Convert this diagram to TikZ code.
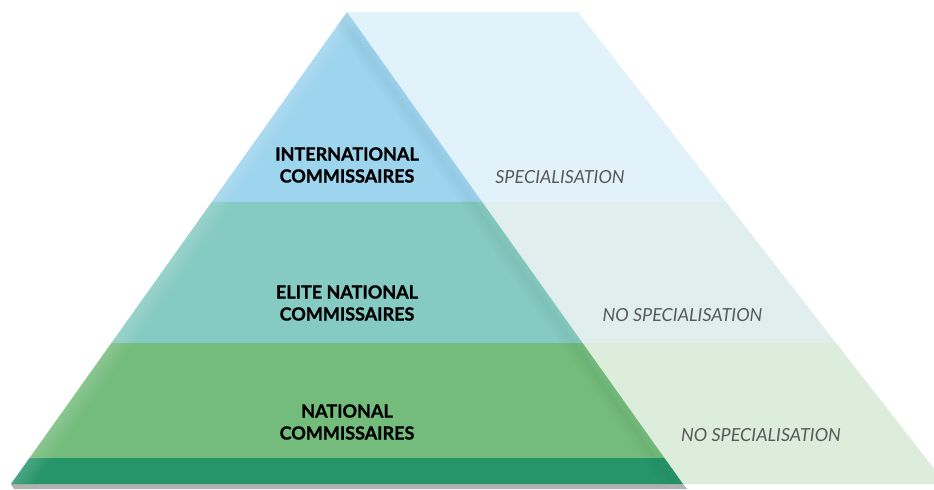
\documentclass[tikz,border=0pt]{standalone}
\usepackage{fontspec}
\setmainfont{Lato}[BoldFeatures={FakeBold=1.2}]
\usetikzlibrary{calc}
\usetikzlibrary{positioning}

\definecolor{topblue}{HTML}{9DD4EE}
\definecolor{midteal}{HTML}{86CBC3}
\definecolor{lowgreen}{HTML}{74BC7C}
\definecolor{basegreen}{HTML}{27956A}
\definecolor{paleblue}{HTML}{E1F2FB}
\definecolor{paleteal}{HTML}{E0EFEE}
\definecolor{palegreen}{HTML}{DDEDDB}
\definecolor{labelgrey}{HTML}{58595B}

\tikzset{
  tierlabel/.style={font=\bfseries\fontsize{13.5}{16.5}\selectfont, align=center, text=black, inner sep=0pt},
  sidelabel/.style={font=\itshape\fontsize{13.5}{16.5}\selectfont, text=labelgrey, inner sep=0pt},
}

\begin{document}
\begin{tikzpicture}[x=0.75pt, y=-0.75pt]
        \useasboundingbox (0,0) rectangle (934,489);
        \clip (0,0) rectangle (934,489);

        % corners
        \coordinate (apex) at (347,12);
        \coordinate (baseL) at (11,484);
        \coordinate (baseR) at (683,484);
        \coordinate (panelT) at (578,12);
        \coordinate (panelB) at (946,484);

        % tier limits on the edges
        \coordinate (l1) at ($(apex)!0.4025!(baseL)$);
        \coordinate (l2) at ($(apex)!0.7013!(baseL)$);
        \coordinate (l3) at ($(apex)!0.9449!(baseL)$);
        \coordinate (r1) at ($(apex)!0.4025!(baseR)$);
        \coordinate (r2) at ($(apex)!0.7013!(baseR)$);
        \coordinate (r3) at ($(apex)!0.9449!(baseR)$);
        \coordinate (p1) at ($(panelT)!0.4025!(panelB)$);
        \coordinate (p2) at ($(panelT)!0.7013!(panelB)$);

        % pale panel
        \fill[paleblue] (apex) -- (panelT) -- (p1) -- (r1) -- cycle;
        \fill[paleteal] (r1) -- (p1) -- (p2) -- (r2) -- cycle;
        \fill[palegreen] (r2) -- (p2) -- (panelB) -- (baseR) -- cycle;

        % shadow under base
        \fill[gray!60] (baseL) -- (baseR) -- ($(baseR)+(4,5)$) -- ($(baseL)+(3,5)$) -- cycle;

        % pyramid tiers
        \fill[topblue] (apex) -- (r1) -- (l1) -- cycle;
        \fill[midteal] (l1) -- (r1) -- (r2) -- (l2) -- cycle;
        \fill[lowgreen] (l2) -- (r2) -- (r3) -- (l3) -- cycle;
        \fill[basegreen] (l3) -- (r3) -- (baseR) -- (baseL) -- cycle;

        % bevel
        \begin{scope}
            \clip (apex) -- (baseR) -- (baseL) -- cycle;
            \foreach \d in {0,...,23}
                \draw[white, opacity={0.12*(1-\d/24)}, line width=0.8pt] ($(apex)+(\d,0)$) -- ($(baseL)+(\d,0)$);
            \foreach \d in {0,...,23}
                \draw[black, opacity={0.03*(1-abs(\d-10)/14)}, line width=0.8pt] ($(apex)+(-\d,0)$) -- ($(baseR)+(-\d,0)$);
        \end{scope}

        % tier labels
        \node[tierlabel] (intl) at (347,165) {INTERNATIONAL\\COMMISSAIRES};
        \node[tierlabel] (elite) at (347,303) {ELITE NATIONAL\\COMMISSAIRES};
        \node[tierlabel] (natl) at (347,422) {NATIONAL\\COMMISSAIRES};

        % side labels
        \node[sidelabel] (spec) at ($(intl)+(213,12)$) {SPECIALISATION};
        \node[sidelabel] (nospec1) at ($(elite)+(335.5,12)$) {NO SPECIALISATION};
        \node[sidelabel] (nospec2) at ($(natl)+(414,13)$) {NO SPECIALISATION};

    \end{tikzpicture}
\end{document}
